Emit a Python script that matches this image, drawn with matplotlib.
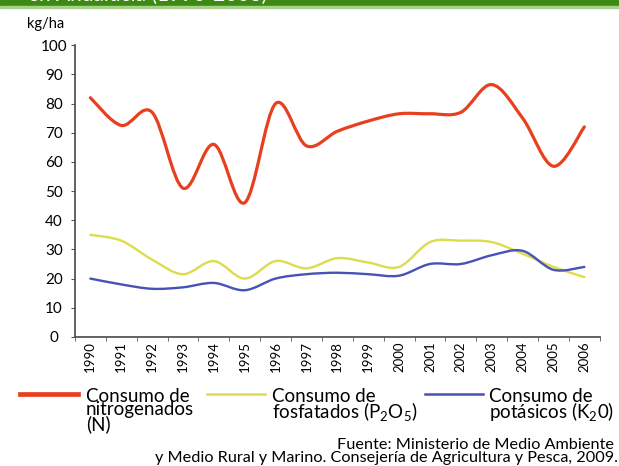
import numpy as np
import matplotlib.pyplot as plt
from matplotlib.path import Path
from matplotlib.patches import PathPatch, Rectangle
from matplotlib.lines import Line2D

plt.rcParams['font.family'] = ['Lato', 'DejaVu Sans']
plt.rcParams['mathtext.fontset'] = 'custom'
plt.rcParams['mathtext.rm'] = 'Lato'
plt.rcParams['mathtext.it'] = 'Lato:italic'

# datos (kg/ha)
anios = ['1990', '1991', '1992', '1993', '1994', '1995', '1996', '1997', '1998',
         '1999', '2000', '2001', '2002', '2003', '2004', '2005', '2006']
nitrogenados = [82, 72.5, 77, 51, 66, 46, 80, 65.5, 70.5, 74, 76.5, 76.5, 77, 86.5, 75, 58.5, 72]
fosfatados = [35, 33, 26.5, 21.5, 26, 20, 26, 23.5, 27, 25.5, 24, 32.5, 33, 32.5, 28.5, 24, 20.5]
potasicos = [20, 18, 16.5, 17, 18.5, 16, 20, 21.5, 22, 21.5, 21, 25, 25, 28, 29.5, 23, 24]

rojo = '#e8401e'
amarillo = '#dcdc4c'
azul = '#4652b6'


def curva(x, y):
    "Curva suavizada tipo Excel (Catmull-Rom -> Bezier)"
    p = np.column_stack([x, y]).astype(float)
    n = len(p)
    verts = [p[0]]
    codes = [Path.MOVETO]
    for i in range(n - 1):
        p0 = p[i - 1] if i > 0 else p[i]
        p1 = p[i]
        p2 = p[i + 1]
        p3 = p[i + 2] if i + 2 < n else p[i + 1]
        verts += [p1 + (p2 - p0) / 6, p2 - (p3 - p1) / 6, p2]
        codes += [Path.CURVE4] * 3
    return Path(verts, codes)


fig = plt.figure(figsize=(6.19, 4.66), dpi=100)
ax = fig.add_axes([0.121, 0.277, 0.848, 0.626])

x = np.arange(len(anios))
for serie, color, lw in [(fosfatados, amarillo, 1.7), (potasicos, azul, 1.7),
                         (nitrogenados, rojo, 2.3)]:
    ax.add_patch(PathPatch(curva(x, serie), facecolor='none', edgecolor=color,
                           lw=lw, capstyle='round', joinstyle='round'))

ax.set_xlim(-0.5, 16.5)
ax.set_ylim(0, 100)
ax.set_yticks(range(0, 101, 10))
ax.set_xticks(x)
ax.set_xticklabels(anios, rotation=90, fontsize=9.5)
ax.set_xticks(np.arange(-0.5, 17, 1), minor=True)
ax.tick_params(axis='x', which='major', length=0, pad=3)
ax.tick_params(axis='x', which='minor', length=3, color='#555555', direction='out')
ax.tick_params(axis='y', length=3, color='#555555', labelsize=11, pad=12)
for s in ['top', 'right']:
    ax.spines[s].set_visible(False)
for s in ['left', 'bottom']:
    ax.spines[s].set_color('#555555')
    ax.spines[s].set_linewidth(1.3)
for lab in ax.get_yticklabels():
    lab.set_horizontalalignment('center')

fig.text(0.044, 0.948, 'kg/ha', fontsize=10.5, va='center')

# franja verde superior
fig.add_artist(Rectangle((0, 0.986), 1, 0.02, transform=fig.transFigure,
                         color='#3d8a12', clip_on=False))
fig.add_artist(Rectangle((0, 0.983), 1, 0.004, transform=fig.transFigure,
                         color='#a9cf8c', clip_on=False))
fig.text(0.045, 0.989, 'en Andalucía (1990-2006)', color='white', fontsize=15,
         va='bottom')

# leyenda
ley = [(rojo, 3.4, 0.032, 0.139, 'Consumo de\nnitrogenados\n(N)'),
       (amarillo, 1.8, 0.334, 0.439, 'Consumo de\nfosfatados (P$_2$O$_5$)'),
       (azul, 1.8, 0.687, 0.790, 'Consumo de\npotásicos (K$_2$0)')]
for color, lw, x0, xt, texto in ley:
    fig.add_artist(Line2D([x0, x0 + 0.094], [0.1545, 0.1545], color=color, lw=lw,
                          transform=fig.transFigure))
    fig.text(xt, 0.168, texto, fontsize=13.5, va='top', linespacing=0.76)

fig.text(0.992, 0.0365, 'Fuente: Ministerio de Medio Ambiente', fontsize=11.7,
         ha='right', va='baseline')
fig.text(0.998, 0.0086, 'y Medio Rural y Marino. Consejería de Agricultura y Pesca, 2009.',
         fontsize=11.7, ha='right', va='baseline')

fig.savefig('out.png', dpi=100)
